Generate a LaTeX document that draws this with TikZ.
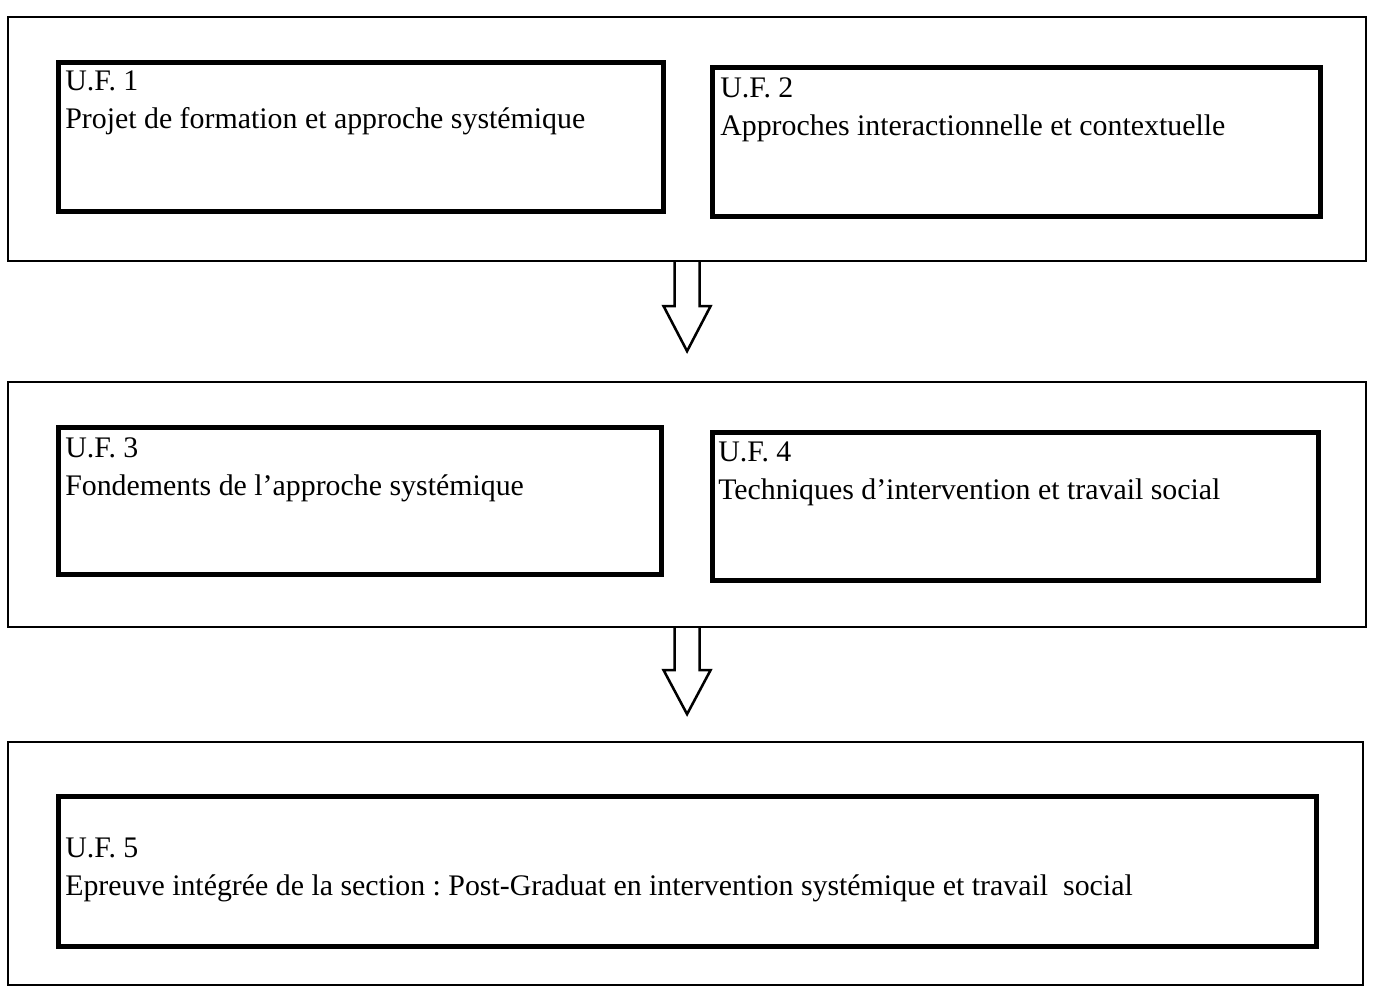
\documentclass[tikz,border=0pt]{standalone}
\usepackage{fontspec}
\setmainfont{Liberation Serif}
\usetikzlibrary{calc}
\usetikzlibrary{positioning}
\frenchspacing

\tikzset{
  outerbox/.style={draw, line width=1.6pt, rectangle, inner sep=0pt, anchor=north west},
  ufbox/.style={draw, line width=3.8pt, rectangle, inner sep=0pt, anchor=north west},
  uftext/.style={anchor=north west, inner sep=0pt, align=left, font=\fontsize{22.4}{28.5}\selectfont},
  hollowarrow/.style={draw, line width=1.9pt, fill=white, line join=miter}
}

\begin{document}
\begin{tikzpicture}[x=0.75pt,y=0.75pt,yscale=-1,xscale=1]
\useasboundingbox (0,0) rectangle (1373,987);

%Shape: Rectangle [outer boxes]
\node[outerbox, minimum width=1018.5pt, minimum height=183pt] (o1) at (7,16) {};
\node[outerbox, minimum width=1018.5pt, minimum height=183.75pt] (o2) at (7,381) {};
\node[outerbox, minimum width=1016.25pt, minimum height=182.25pt] (o3) at (7,741) {};

%Shape: Rectangle [U.F. boxes]
\node[ufbox, minimum width=454pt, minimum height=112pt] (uf1) at (56,60) {};
\node[ufbox, minimum width=456.25pt, minimum height=112pt] (uf2) at (710,65) {};
\node[ufbox, minimum width=452.5pt, minimum height=110.5pt] (uf3) at (56,425) {};
\node[ufbox, minimum width=454.75pt, minimum height=111.25pt] (uf4) at (710,430) {};
\node[ufbox, minimum width=943.75pt, minimum height=112.75pt] (uf5) at (56,794) {};

%Shape: Arrow [between outer boxes]
\coordinate (tip1) at ($(o1.south)+(0,89)$);
\draw[hollowarrow] ($(o1.south)+(-12.5,0)$) -- ++(0,44) -- ++(-11,0) -- (tip1) -- ($(o1.south)+(23.5,44)$) -- ++(-11,0) -- ($(o1.south)+(12.5,0)$) ;
\coordinate (tip2) at ($(o2.south)+(0,86)$);
\draw[hollowarrow] ($(o2.south)+(-12.5,0)$) -- ++(0,42) -- ++(-11,0) -- (tip2) -- ($(o2.south)+(23.5,42)$) -- ++(-11,0) -- ($(o2.south)+(12.5,0)$) ;

% Text Node
\node[uftext] (t1) at ($(uf1.north west)+(9,11)$) {U.F. 1\\Projet de formation et approche systémique};
% Text Node
\node[uftext] (t2) at ($(uf2.north west)+(10,12)$) {U.F. 2\\Approches interactionnelle et contextuelle};
% Text Node
\node[uftext] (t3) at ($(uf3.north west)+(9,12)$) {U.F. 3\\Fondements de l’approche systémique};
% Text Node
\node[uftext] (t4) at ($(uf4.north west)+(8,12)$) {U.F. 4\\Techniques d’intervention et travail social};
% Text Node
\node[uftext] (t5) at ($(uf5.north west)+(9,44)$) {U.F. 5\\Epreuve intégrée de la section : Post-Graduat en intervention systémique et travail \ social};

\end{tikzpicture}
\end{document}
